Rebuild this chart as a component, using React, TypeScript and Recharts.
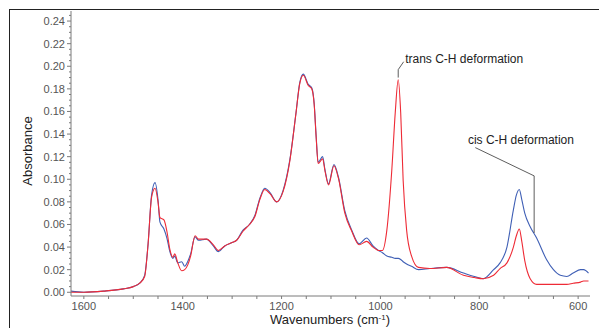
import { LineChart, Line, XAxis, YAxis, ReferenceLine, ReferenceDot } from "recharts";

// wavenumber grid (cm-1), shared by both spectra
const wavenumbers = [
  1626, 1600, 1560, 1520, 1500, 1487, 1477, 1470, 1463, 1456, 1450, 1446, 1438, 1432, 1426, 1420,
  1416, 1410, 1402, 1396, 1390, 1384, 1375, 1368, 1352, 1338, 1328, 1315, 1300, 1291, 1278, 1265,
  1254, 1244, 1234, 1223, 1210, 1197, 1183, 1171, 1163, 1156, 1146, 1139, 1134, 1130, 1126, 1117,
  1112, 1105, 1094, 1085, 1072, 1058, 1043, 1028, 1015, 1004, 996, 987, 977, 970, 964, 959, 954,
  947, 937, 923, 900, 866, 832, 810, 792, 771, 758, 744, 731, 725, 719, 714, 708, 697, 684, 664,
  650, 636, 623, 610, 595, 589, 579,
];

const blueSpectrum = [
  0.001, 0.0, 0.001, 0.003, 0.005, 0.008, 0.015, 0.043, 0.086, 0.097, 0.082, 0.062, 0.056, 0.048, 0.036, 0.03,
  0.032, 0.026, 0.027, 0.023, 0.027, 0.034, 0.049, 0.046, 0.047, 0.041, 0.036, 0.041, 0.044, 0.046, 0.055, 0.06,
  0.068, 0.083, 0.092, 0.088, 0.08, 0.09, 0.118, 0.158, 0.186, 0.193, 0.184, 0.181, 0.167, 0.138, 0.115, 0.12,
  0.108, 0.096, 0.113, 0.102, 0.072, 0.055, 0.043, 0.048, 0.041, 0.037, 0.035, 0.032, 0.031, 0.03, 0.03, 0.029, 0.027,
  0.025, 0.023, 0.02, 0.021, 0.022, 0.017, 0.014, 0.012, 0.02, 0.026, 0.04, 0.073, 0.086, 0.091, 0.082, 0.07, 0.058, 0.048, 0.029,
  0.02, 0.015, 0.014, 0.017, 0.02, 0.02, 0.017,
];

const redSpectrum = [
  0.0, 0.0, 0.001, 0.003, 0.005, 0.008, 0.014, 0.043, 0.084, 0.092, 0.08, 0.066, 0.064, 0.054, 0.038, 0.031,
  0.034, 0.026, 0.019, 0.02, 0.024, 0.032, 0.05, 0.047, 0.047, 0.042, 0.037, 0.041, 0.044, 0.046, 0.054, 0.06,
  0.067, 0.082, 0.091, 0.087, 0.08, 0.089, 0.117, 0.158, 0.185, 0.192, 0.183, 0.18, 0.166, 0.137, 0.114, 0.118,
  0.107, 0.095, 0.112, 0.101, 0.07, 0.054, 0.042, 0.045, 0.04, 0.037, 0.037, 0.055, 0.108, 0.159, 0.188, 0.159, 0.099,
  0.055, 0.032, 0.022, 0.021, 0.022, 0.015, 0.013, 0.012, 0.015, 0.021, 0.026, 0.04, 0.05, 0.056, 0.045, 0.028, 0.012, 0.007, 0.007,
  0.007, 0.007, 0.007, 0.008, 0.009, 0.01, 0.01,
];

const xTicks = [
  600, 650, 700, 750, 800, 850, 900, 950, 1000, 1050, 1100, 1150, 1200, 1250, 1300, 1350, 1400, 1450, 1500, 1550, 1600,
];
const xLabelTicks = [600, 800, 1000, 1200, 1400, 1600];
const yTicks = [
  0, 0.005, 0.01, 0.015, 0.02, 0.025, 0.03, 0.035, 0.04, 0.045, 0.05, 0.055, 0.06, 0.065, 0.07, 0.075, 0.08,
  0.085, 0.09, 0.095, 0.1, 0.105, 0.11, 0.115, 0.12, 0.125, 0.13, 0.135, 0.14, 0.145, 0.15, 0.155, 0.16, 0.165,
  0.17, 0.175, 0.18, 0.185, 0.19, 0.195, 0.2, 0.205, 0.21, 0.215, 0.22, 0.225, 0.23, 0.235, 0.24, 0.245,
];

const data = wavenumbers.map((wn, i) => ({ wn, blue: blueSpectrum[i], red: redSpectrum[i] }));

const AXIS = "#7a7a7a";
const TICK_TEXT = "#555";
const FONT = "'Liberation Sans', Arial, sans-serif";

function YTick({ x, y, payload }: any) {
  const v = payload.value;
  const major = Math.abs(v / 0.02 - Math.round(v / 0.02)) < 1e-6;
  return (
    <g>
      <line x1={x - (major ? 4 : 2)} x2={x} y1={y} y2={y} stroke={AXIS} />
      {major && (
        <text x={x - 6} y={y} dy="0.35em" textAnchor="end" fontSize={11} fill={TICK_TEXT} fontFamily={FONT}>
          {v.toFixed(2)}
        </text>
      )}
    </g>
  );
}

function XTick({ x, y, payload }: any) {
  const v = payload.value;
  return (
    <g>
      <line x1={x} x2={x} y1={y} y2={y + 3} stroke={AXIS} />
      {xLabelTicks.includes(v) && (
        <text x={x} y={y + 10} dy="0.35em" textAnchor="middle" fontSize={11} fill={TICK_TEXT} fontFamily={FONT}>
          {v}
        </text>
      )}
    </g>
  );
}

function AnnoLabel({ viewBox, text }: any) {
  return (
    <text x={viewBox.x} y={viewBox.y} dy="0.35em" fontSize={12} fill="#222" fontFamily={FONT}>
      {text}
    </text>
  );
}

export default function App() {
  return (
    <div style={{ position: "absolute", left: 0, top: 0, width: 599, height: 328, background: "#fff", overflow: "hidden" }}>
      <div style={{ position: "absolute", left: 9, top: 9, width: 620, height: 340, border: "1px solid #222" }} />
      <LineChart
        width={599}
        height={328}
        data={data}
        margin={{ top: 11, right: 9, bottom: 0, left: 0 }}
        style={{ position: "absolute", left: 0, top: 0 }}
      >
        <XAxis
          dataKey="wn"
          type="number"
          domain={[576, 1626]}
          reversed
          ticks={xTicks}
          interval={0}
          tick={<XTick />}
          tickLine={false}
          tickSize={0}
          tickMargin={0}
          height={32}
          stroke={AXIS}
          allowDataOverflow
        />
        <YAxis
          type="number"
          domain={[-0.0033, 0.2489]}
          ticks={yTicks}
          interval={0}
          tick={<YTick />}
          tickLine={false}
          tickSize={0}
          tickMargin={0}
          width={71}
          stroke={AXIS}
          allowDataOverflow
        />
        <Line type="monotone" dataKey="blue" stroke="#3f5fb5" strokeWidth={1.1} dot={false} isAnimationActive={false} />
        <Line type="monotone" dataKey="red" stroke="#ee2b36" strokeWidth={1.1} dot={false} isAnimationActive={false} />
        <ReferenceLine segment={[{ x: 964, y: 0.19 }, { x: 964, y: 0.197 }]} stroke="#333" strokeWidth={0.8} ifOverflow="visible" />
        <ReferenceLine segment={[{ x: 964, y: 0.197 }, { x: 953, y: 0.204 }]} stroke="#333" strokeWidth={0.8} ifOverflow="visible" />
        <ReferenceLine segment={[{ x: 808, y: 0.128 }, { x: 689, y: 0.103 }]} stroke="#333" strokeWidth={0.8} ifOverflow="visible" />
        <ReferenceLine segment={[{ x: 689, y: 0.103 }, { x: 689, y: 0.0525 }]} stroke="#333" strokeWidth={0.8} ifOverflow="visible" />
        <ReferenceDot x={950} y={0.2065} r={0} fill="none" stroke="none" ifOverflow="visible" label={<AnnoLabel text="trans C-H deformation" />} />
        <ReferenceDot x={823} y={0.1348} r={0} fill="none" stroke="none" ifOverflow="visible" label={<AnnoLabel text="cis C-H deformation" />} />
      </LineChart>
      <div
        style={{
          position: "absolute",
          left: 27,
          top: 151,
          transform: "translate(-50%, -50%) rotate(-90deg)",
          fontFamily: FONT,
          fontSize: 13,
          color: "#222",
          whiteSpace: "nowrap",
        }}
      >
        Absorbance
      </div>
      <div
        style={{
          position: "absolute",
          left: 330,
          top: 320,
          transform: "translate(-50%, -50%)",
          fontFamily: FONT,
          fontSize: 13,
          lineHeight: "14px",
          color: "#222",
          whiteSpace: "nowrap",
        }}
      >
        Wavenumbers (cm<span style={{ fontSize: 8, verticalAlign: "4px", lineHeight: 0 }}>-1</span>)
      </div>
    </div>
  );
}
